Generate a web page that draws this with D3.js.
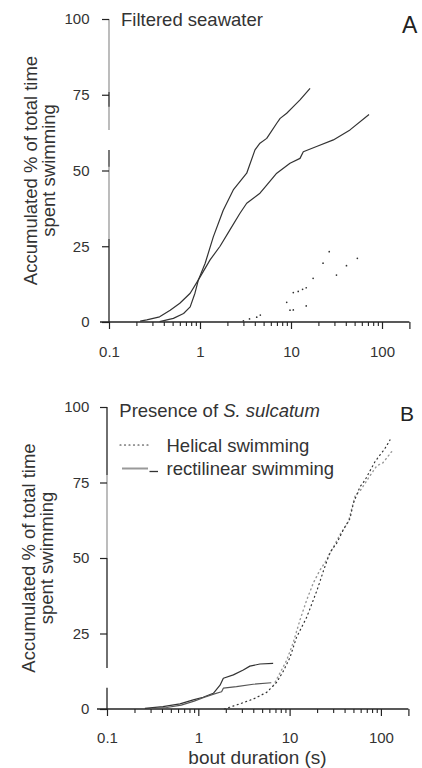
<!DOCTYPE html>
<html><head><meta charset="utf-8">
<script src="https://cdn.jsdelivr.net/npm/d3@7"></script>
<style>
html,body{margin:0;padding:0;background:#fff;}
svg{display:block;font-family:"Liberation Sans",Arial,Helvetica,sans-serif;}
</style></head><body>
<svg id="chart" width="422" height="768"></svg>
<script>
// ---------- data ----------
const yTickValues = [0, 25, 50, 75, 100];
const xMajorTicks = [0.1, 1, 10, 100, 200];
const xMajorLabels = ["0.1", "1", "10", "100", ""];
const xMinorTicks = [0.2,0.3,0.4,0.5,0.6,0.7,0.8,0.9,2,3,4,5,6,7,8,9,20,30,40,50,60,70,80,90];

// Panel A: filtered seawater
const rectA1_x = [0.22,0.26,0.36,0.47,0.6,0.78,0.96,1.14,1.4,1.8,2.32,3.26,4.02,4.56,5.41,6.97,7.6,8.97,10.6,12.56,16.2];
const rectA1_y = [0.3,0.7,1.7,3.9,6.2,9.5,13.9,19.4,28.1,36.9,43.6,49.1,56.8,59.0,60.6,65.6,67.2,68.9,71.1,73.3,77.1];
const rectA2_x = [0.36,0.51,0.66,0.78,0.88,0.96,1.29,1.66,2.14,2.75,3.26,4.56,5.41,6.97,9.75,12.56,13.65,19.1,29.2,44.5,72];
const rectA2_y = [0.1,1.2,2.8,5.0,9.5,13.9,20.5,25.0,30.5,35.9,39.2,42.5,45.2,49.1,52.4,54.0,56.2,57.9,60.1,63.4,68.5];
const helA1_x = [3.0,3.5,4.2,4.6,8.97,10.6,12.0,13.4,14.7,17.5,22.5,26.3];
const helA1_y = [0.4,1.0,1.6,2.3,6.5,9.7,10.1,10.8,11.3,14.4,19.4,23.2];
const helA2_x = [9.75,10.6,14.7,31.6,40.7,53.6];
const helA2_y = [3.9,4.0,5.3,15.5,18.6,21.0];

// Panel B: presence of S. sulcatum
const rectB1_x = [0.26,0.41,0.63,0.88,1.13,1.46,1.73,1.88,2.42,3.11,3.67,4.73,6.6];
const rectB1_y = [0.2,0.8,1.7,3.0,3.9,5.2,7.9,10.2,11.3,12.9,14.2,14.9,15.1];
const rectB2_x = [0.3,0.45,0.65,0.9,1.15,1.5,1.8,1.88,2.62,3.99,6.3];
const rectB2_y = [0.1,0.5,1.3,2.6,3.8,5.0,5.7,6.9,7.4,8.2,8.7];
const helB1_x = [1.93,2.85,4.0,5.6,7.2,8.6,10.1,11.9,15.4,19.9,23.5,27.7,32.8,38.7,45.9,49.9,59,67,86.1,110.9,125.9];
const helB1_y = [0,1.7,3.3,5.5,8.8,12.7,17.1,23.7,30.4,39.2,45.8,51.9,54.9,59.3,63.1,68.1,73.6,75.8,81.9,86.3,89.1];
const helB2_x = [6.6,7.8,9.3,10.9,13.0,15.4,18.1,21.5,25,30,36,44,52,60,75,90,105,131];
const helB2_y = [7.6,11.8,16.2,21.8,29.5,36.1,41.6,46.0,49,53.5,58,62,70.5,72.5,77,80.5,81.5,85.2];

const zip = (xs, ys) => xs.map((v, i) => [v, ys[i]]);

// ---------- drawing ----------
const svg = d3.select("#chart");
const FONT = '"Liberation Sans",Arial,Helvetica,sans-serif';

function drawPanel(cfg) {
  const g = svg.append("g");
  const x = d3.scaleLog().domain([0.1, 200]).range([cfg.x0, cfg.x1]);
  const y = d3.scaleLinear().domain([0, 100]).range([cfg.y0, cfg.y1]);

  // y axis line segments (scan shading)
  cfg.ySegs.forEach(s => {
    g.append("line").attr("x1", x(0.1)).attr("x2", x(0.1))
      .attr("y1", y(s[0])).attr("y2", y(s[1]))
      .attr("stroke", s[2]).attr("stroke-width", 1.3);
  });
  const yAx = d3.axisLeft(y).tickValues(yTickValues).tickSize(7).tickPadding(cfg.yPad);
  const ya = g.append("g").attr("transform", `translate(${x(0.1)},0)`).call(yAx);
  ya.select(".domain").remove();
  ya.selectAll("line").attr("stroke", "#222").attr("stroke-width", 1.2);
  ya.selectAll("text").attr("font-size", 15).attr("font-family", FONT).attr("fill", "#333");

  // x axis
  g.append("line").attr("x1", cfg.xLineLeft).attr("x2", x(200))
    .attr("y1", y(0)).attr("y2", y(0)).attr("stroke", "#222").attr("stroke-width", 1.3);
  const xAx = d3.axisBottom(x).tickValues(xMajorTicks).tickFormat((d, i) => xMajorLabels[i])
    .tickSize(7).tickPadding(cfg.xPad);
  const xa = g.append("g").attr("transform", `translate(0,${y(0)})`).call(xAx);
  xa.select(".domain").remove();
  xa.selectAll("line").attr("stroke", "#222").attr("stroke-width", 1.2);
  xa.selectAll("text").attr("font-size", 15).attr("font-family", FONT).attr("fill", "#333");
  const xm = g.append("g").attr("transform", `translate(0,${y(0)})`)
    .call(d3.axisBottom(x).tickValues(xMinorTicks).tickFormat("").tickSize(4));
  xm.select(".domain").remove();
  xm.selectAll("line").attr("stroke", "#222").attr("stroke-width", 1.1);

  const line = d3.line().x(d => x(d[0])).y(d => y(d[1]));

  cfg.solid.forEach(s => {
    g.append("path").datum(s.data).attr("d", line).attr("fill", "none")
      .attr("stroke", s.color).attr("stroke-width", 1.2).attr("stroke-linejoin", "round");
  });
  cfg.dotted.forEach(s => {
    g.append("path").datum(s.data).attr("d", line).attr("fill", "none")
      .attr("stroke", s.color).attr("stroke-width", s.w || 1.2)
      .attr("stroke-dasharray", "1 3.5").attr("stroke-linecap", "round");
  });
  cfg.points.forEach(s => {
    g.selectAll(null).data(s.data).enter().append("circle")
      .attr("cx", d => x(d[0])).attr("cy", d => y(d[1])).attr("r", 0.85).attr("fill", s.color);
  });

  // y title
  cfg.yTitle.forEach((t, i) => {
    g.append("text").attr("transform", `translate(${cfg.yTitleX[i]},${(y(0) + y(100)) / 2}) rotate(-90)`)
      .attr("text-anchor", "middle").attr("font-size", 18.5).attr("fill", "#333").text(t);
  });
  return { g, x, y };
}

// Panel A
const pA = drawPanel({
  x0: 109, x1: 409.4, y0: 322, y1: 19, xLineLeft: 100, xPad: 17.4, yPad: 12.5,
  ySegs: [[0, 27.4, "#222"], [27.4, 56.8, "#999"], [51.2, 56.8, "#555"], [63.4, 100, "#999"], [71, 75.9, "#444"]],
  solid: [{ data: zip(rectA1_x, rectA1_y), color: "#333" }, { data: zip(rectA2_x, rectA2_y), color: "#333" }],
  dotted: [],
  points: [{ data: zip(helA1_x, helA1_y), color: "#333" }, { data: zip(helA2_x, helA2_y), color: "#333" }],
  yTitle: ["Accumulated % of total time", "spent swimming"], yTitleX: [36.5, 54.5]
});
pA.g.append("text").attr("x", 121).attr("y", 26).attr("font-size", 18.5).attr("fill", "#333").text("Filtered seawater");
pA.g.append("text").attr("x", 402).attr("y", 32.5).attr("font-size", 23).attr("fill", "#222").text("A");

// Panel B
const pB = drawPanel({
  x0: 107, x1: 408.4, y0: 709, y1: 407, xLineLeft: 97, xPad: 16.4, yPad: 10.7,
  ySegs: [[0, 7, "#222"], [13.6, 50, "#222"], [50, 77.5, "#999"], [77.5, 100, "#222"]],
  solid: [{ data: zip(rectB1_x, rectB1_y), color: "#333" }, { data: zip(rectB2_x, rectB2_y), color: "#555" }],
  dotted: [{ data: zip(helB2_x, helB2_y), color: "#999", w: 1.4 }, { data: zip(helB1_x, helB1_y), color: "#333" }],
  points: [],
  yTitle: ["Accumulated % of total time", "spent swimming"], yTitleX: [35, 53]
});
const tB = pB.g.append("text").attr("x", 119.3).attr("y", 417.3).attr("font-size", 18.5).attr("fill", "#333");
tB.append("tspan").text("Presence of ");
tB.append("tspan").attr("font-style", "italic").text("S. sulcatum");
pB.g.append("text").attr("x", 400).attr("y", 421).attr("font-size", 21).attr("fill", "#222").text("B");

// legend
pB.g.append("line").attr("x1", 120).attr("x2", 148).attr("y1", 445).attr("y2", 445)
  .attr("stroke", "#333").attr("stroke-width", 1.2).attr("stroke-dasharray", "1 3.5").attr("stroke-linecap", "round");
pB.g.append("text").attr("x", 166.5).attr("y", 452).attr("font-size", 18.5).attr("fill", "#333").text("Helical swimming");
pB.g.append("line").attr("x1", 122).attr("x2", 148).attr("y1", 468.5).attr("y2", 468.5)
  .attr("stroke", "#999").attr("stroke-width", 2);
pB.g.append("line").attr("x1", 149.5).attr("x2", 158).attr("y1", 471.5).attr("y2", 471.5)
  .attr("stroke", "#333").attr("stroke-width", 1.3);
pB.g.append("text").attr("x", 166.5).attr("y", 475).attr("font-size", 18.5).attr("fill", "#333").text("rectilinear swimming");

// x title
pB.g.append("text").attr("x", 257.5).attr("y", 764).attr("text-anchor", "middle")
  .attr("font-size", 19).attr("fill", "#333").text("bout duration (s)");
</script>
</body></html>
